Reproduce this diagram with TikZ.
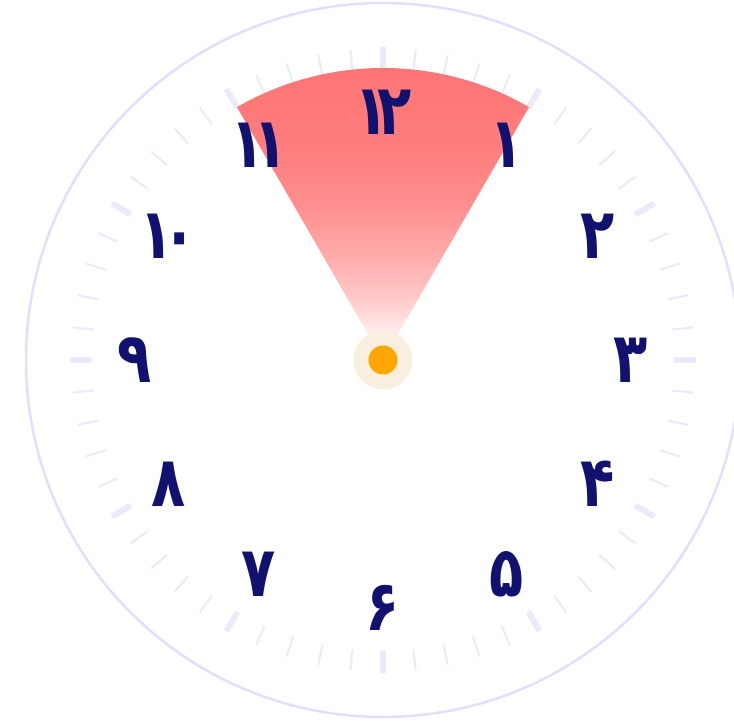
\documentclass[tikz,border=0pt]{standalone}
\usepackage{fontspec}
\newfontfamily\farsidigits[Script=Arabic, FakeStretch=0.8, LetterSpace=-16]{DejaVu Sans}
\usepackage{xcolor}
\definecolor{dialring}{RGB}{224,224,252}
\definecolor{dialtick}{RGB}{234,234,251}
\definecolor{numblue}{RGB}{17,17,112}
\definecolor{fanred}{RGB}{255,115,115}
\definecolor{hubcream}{RGB}{249,239,222}
\definecolor{hubpin}{RGB}{255,166,0}

\pgfdeclareverticalshading{fanfade}{100bp}{color(0bp)=(fanred!3); color(25bp)=(fanred!3); color(30bp)=(fanred!15); color(35bp)=(fanred!38); color(42bp)=(fanred!60); color(50bp)=(fanred!80); color(60bp)=(fanred!93); color(75bp)=(fanred); color(100bp)=(fanred)}

\begin{document}
\begin{tikzpicture}[x=1pt, y=1pt,
    font=\farsidigits\bfseries\fontsize{70}{70}\selectfont,
    hournum/.style={text=numblue, inner sep=0pt},
    minutetick/.style={draw=dialtick, line width=2pt},
    hourtick/.style={draw=dialtick, line width=6pt}]
    \path[use as bounding box, clip] (-383,-367) rectangle (351,360);

    % dial ring and ticks
    \draw[dialring, line width=2.5pt] (0,0) circle[radius=357];
    \foreach \m in {0,...,59}
        \draw[minutetick] (\m*6:291) -- (\m*6:312);
    \foreach \h in {0,...,11}
        \draw[hourtick] (\h*30:291) -- (\h*30:313);

    % highlighted sector from 11 to 1
    \path[shading=fanfade] (0,0) -- (120:292) arc[start angle=120, end angle=60, radius=292] -- cycle;

    % hour labels
    \foreach \h/\lab in {1/۱, 2/۲, 3/۳, 4/۴, 5/۵, 6/۶, 7/۷, 8/۸, 9/۹, 10/۱۰, 11/۱۱, 12/۱۲}
        \node[hournum] (num\h) at ({90-30*\h}:248) {\lab};

    % centre
    \node[circle, fill=hubcream, minimum size=59pt, inner sep=0pt] (hub) at (0,0) {};
    \node[circle, fill=hubpin, minimum size=29pt, inner sep=0pt] (pin) at (hub) {};
\end{tikzpicture}
\end{document}
